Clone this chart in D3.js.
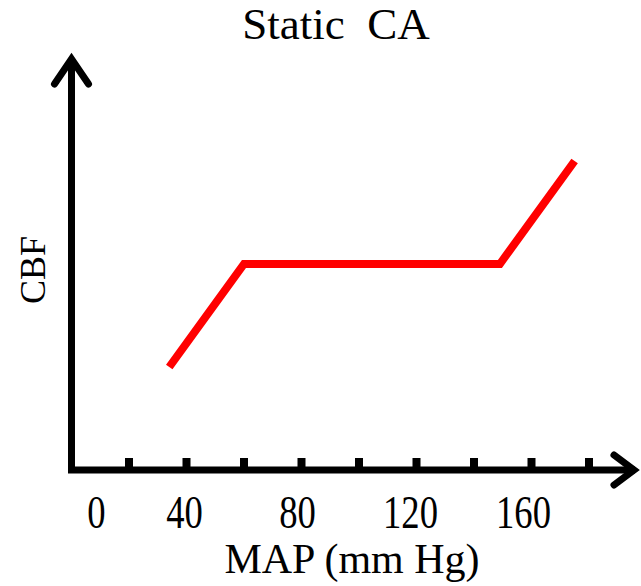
<!DOCTYPE html>
<html>
<head>
<meta charset="utf-8">
<script src="https://cdn.jsdelivr.net/npm/d3@7"></script>
<style>
  html, body { margin: 0; padding: 0; background: #fff; }
  svg { display: block; }
  text { font-family: "Liberation Serif", "Times New Roman", serif; fill: #000; }
</style>
</head>
<body>
<svg id="chart" width="641" height="586"></svg>
<script>
// ---- data ----
const mapValues = [34, 60, 149, 175];         // MAP (mm Hg)
const cbfValues = [25.75, 51.5, 51.5, 77.25]; // CBF (arbitrary units)
const tickValues = [20, 40, 60, 80, 100, 120, 140, 160, 180];
const tickLabels = [0, 40, 80, 120, 160];
const titleText = "Static\u00A0\u00A0CA";
const xLabelText = "MAP (mm Hg)";
const yLabelText = "CBF";

// ---- layout ----
const svg = d3.select("#chart");
const x = d3.scaleLinear().domain([0, 200]).range([71.5, 646.5]);
const y = d3.scaleLinear().domain([0, 100]).range([470, 70]);

// axes (L shape)
svg.append("path")
  .attr("d", `M${x(0)},60 L${x(0)},${y(0)} L${x(196)},${y(0)}`)
  .attr("fill", "none").attr("stroke", "#000")
  .attr("stroke-width", 7).attr("stroke-linejoin", "miter");

// arrowheads
svg.append("path")
  .attr("d", `M${x(0)-17},84 L${x(0)},59 L${x(0)+17},84`)
  .attr("fill", "none").attr("stroke", "#000")
  .attr("stroke-width", 7).attr("stroke-linejoin", "miter").attr("stroke-linecap", "round");
svg.append("path")
  .attr("d", `M614,${y(0)-15} L634,${y(0)} L614,${y(0)+15}`)
  .attr("fill", "none").attr("stroke", "#000")
  .attr("stroke-width", 7).attr("stroke-linejoin", "miter").attr("stroke-linecap", "round");

// tick marks
svg.selectAll("rect.tick").data(tickValues).enter().append("rect")
  .attr("class", "tick")
  .attr("x", d => x(d) - 4)
  .attr("y", y(0) - 12)
  .attr("width", 8)
  .attr("height", 12)
  .attr("fill", "#000");

// tick labels (hand-placed in the original: slight drift from tick positions)
svg.selectAll("text.tl").data(tickLabels).enter().append("text")
  .attr("class", "tl")
  .attr("transform", d => {
    const cx = d === 0 ? x(d) + 25 : x(d) - d * 0.05;
    return `translate(${cx},528) scale(0.78,1)`;
  })
  .attr("text-anchor", "middle")
  .attr("font-size", 47)
  .text(d => d);

// data line
const line = d3.line().x(d => x(d[0])).y(d => y(d[1]));
svg.append("path")
  .datum(d3.zip(mapValues, cbfValues))
  .attr("d", line)
  .attr("fill", "none")
  .attr("stroke", "#ff0000")
  .attr("stroke-width", 8)
  .attr("stroke-linejoin", "miter")
  .attr("stroke-linecap", "butt");

// title
svg.append("text")
  .attr("x", 336).attr("y", 39)
  .attr("text-anchor", "middle")
  .attr("font-size", 45)
  .text(titleText);

// x label
svg.append("text")
  .attr("x", 352).attr("y", 573)
  .attr("text-anchor", "middle")
  .attr("font-size", 42)
  .text(xLabelText);

// y label
svg.append("text")
  .attr("transform", "translate(45,270) rotate(-90)")
  .attr("text-anchor", "middle")
  .attr("font-size", 36)
  .text(yLabelText);
</script>
</body>
</html>
